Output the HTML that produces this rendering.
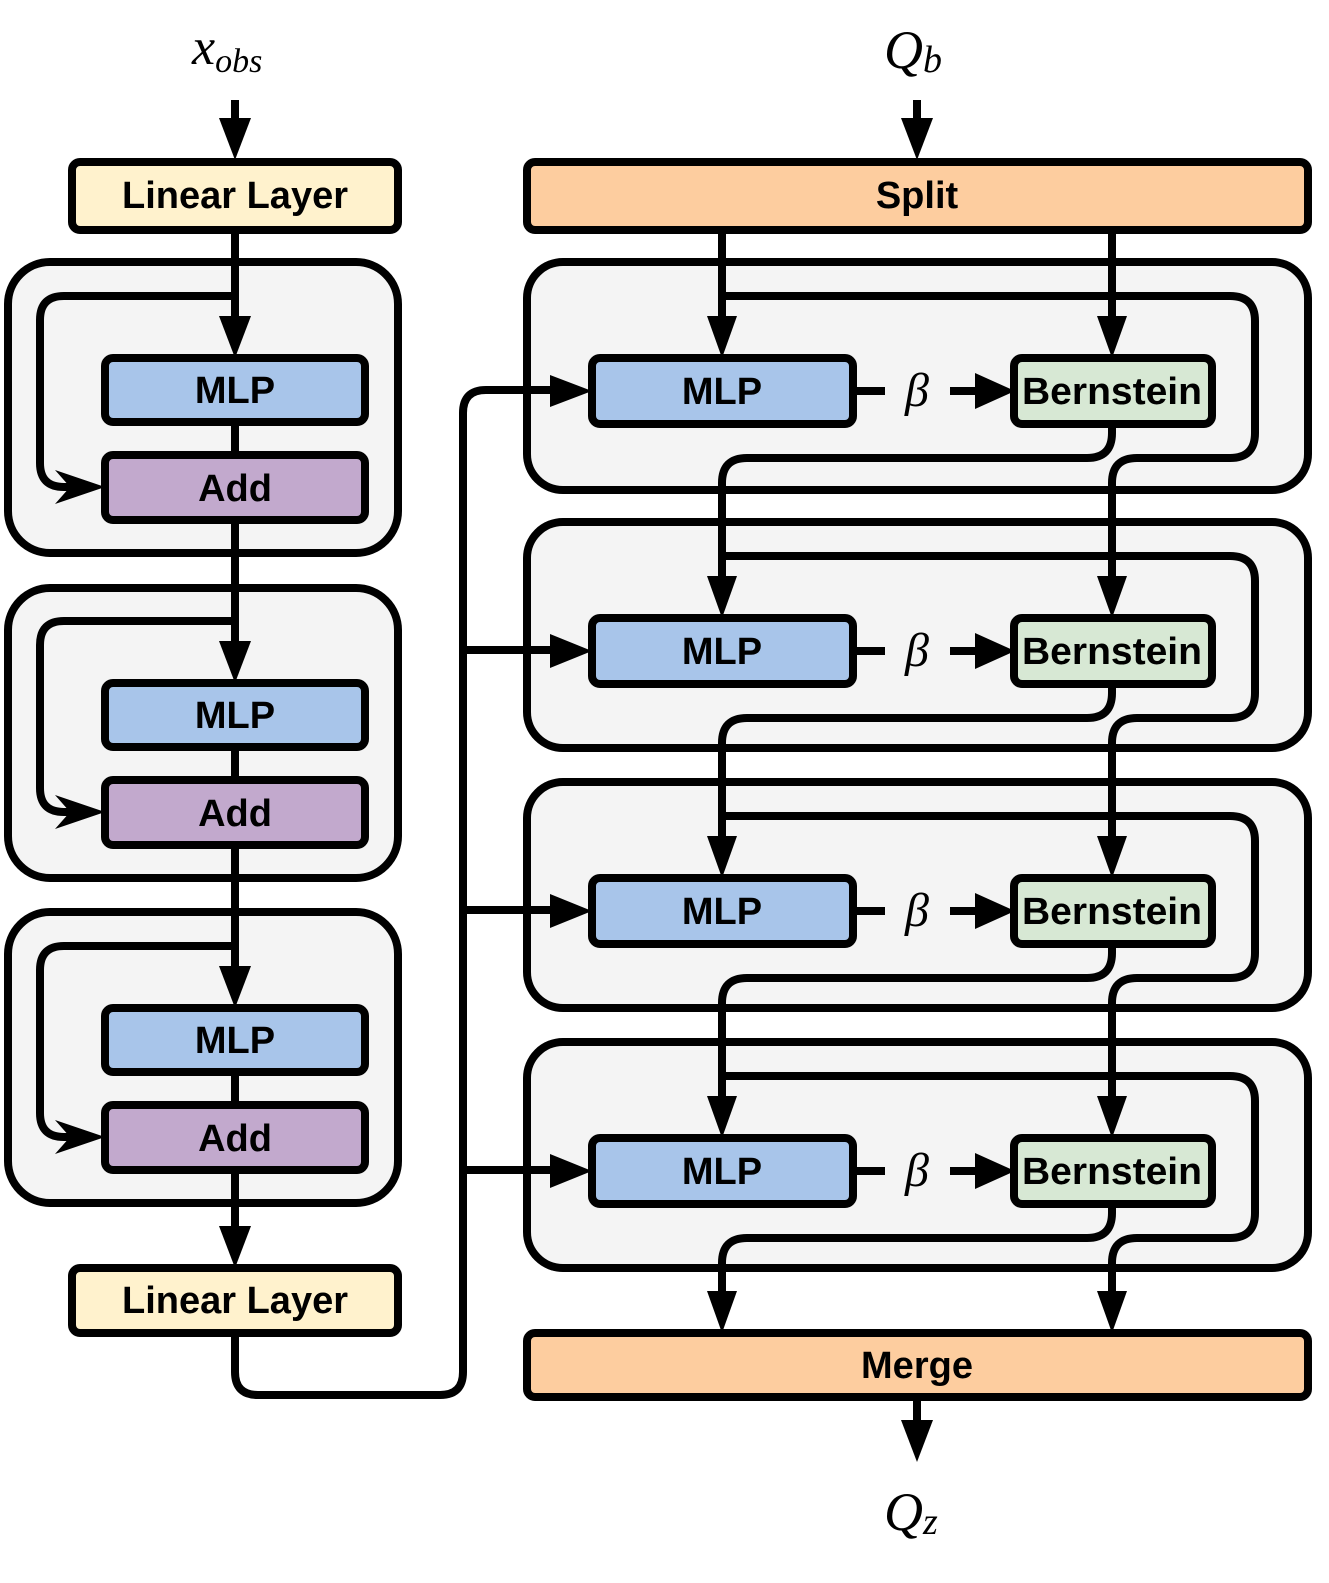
<!DOCTYPE html>
<html><head><meta charset="utf-8"><style>html,body{margin:0;padding:0;background:#fff}svg{display:block}</style></head>
<body>
<svg width="1329" height="1583" viewBox="0 0 1329 1583" xmlns="http://www.w3.org/2000/svg">
<defs>
<style>
.b{font-family:"Liberation Sans",sans-serif;font-weight:bold;font-size:38px;text-anchor:middle;fill:#000}
.m{font-family:"Liberation Serif",serif;font-style:italic;fill:#000}
.l{fill:none;stroke:#000;stroke-width:8}
.bx{stroke:#000;stroke-width:8}
</style>
</defs>
<g fill="#f4f4f4" stroke="#000" stroke-width="8">
<rect x="8" y="262" width="390" height="291" rx="42"/>
<rect x="8" y="588" width="390" height="290" rx="42"/>
<rect x="8" y="912" width="390" height="291" rx="42"/>
<rect x="527" y="262" width="781" height="228" rx="36"/>
<rect x="527" y="522" width="781" height="226" rx="36"/>
<rect x="527" y="782" width="781" height="226" rx="36"/>
<rect x="527" y="1042" width="781" height="226" rx="36"/>
</g>
<g class="l">
<path d="M235,100 V125"/>
<path d="M235,230 V320"/>
<path d="M235,422 V455"/>
<path d="M235,520 V645"/>
<path d="M235,747 V780"/>
<path d="M235,845 V970"/>
<path d="M235,1072 V1105"/>
<path d="M235,1170 V1230"/>
<path d="M235,296 H64 Q40,296 40,320 V463 Q40,487 64,487 H70"/>
<path d="M235,621 H64 Q40,621 40,645 V788 Q40,812 64,812 H70"/>
<path d="M235,946 H64 Q40,946 40,970 V1113 Q40,1137 64,1137 H70"/>
<path d="M235,1333 V1372 Q235,1395 258,1395 H440 Q463,1395 463,1372 V413 Q463,390 486,390 H555"/>
<path d="M463,650 H555"/><path d="M463,910 H555"/><path d="M463,1170 H555"/>
<path d="M917,100 V125"/>
<path d="M722,230 V320"/>
<path d="M1112,230 V320"/>
<path d="M917,1397 V1425"/>
</g>
<g class="l">
<path d="M722,296 H1230 Q1255,296 1255,321 V433 Q1255,458 1230,458 H1137 Q1112,458 1112,483 V580"/>
<path d="M1112,424 V433 Q1112,458 1087,458 H747 Q722,458 722,483 V580"/>
<path d="M722,556 H1230 Q1255,556 1255,581 V693 Q1255,718 1230,718 H1137 Q1112,718 1112,743 V840"/>
<path d="M1112,684 V693 Q1112,718 1087,718 H747 Q722,718 722,743 V840"/>
<path d="M722,816 H1230 Q1255,816 1255,841 V953 Q1255,978 1230,978 H1137 Q1112,978 1112,1003 V1100"/>
<path d="M1112,944 V953 Q1112,978 1087,978 H747 Q722,978 722,1003 V1100"/>
<path d="M722,1076 H1230 Q1255,1076 1255,1101 V1213 Q1255,1238 1230,1238 H1137 Q1112,1238 1112,1263 V1296"/>
<path d="M1112,1204 V1213 Q1112,1238 1087,1238 H747 Q722,1238 722,1263 V1296"/>
<path d="M853,391 H885 M950,391 H985"/>
<path d="M853,651 H885 M950,651 H985"/>
<path d="M853,911 H885 M950,911 H985"/>
<path d="M853,1171 H885 M950,1171 H985"/>
</g>
<g fill="#000">
<path d="M219,118 H251 L235,160 Z"/>
<path d="M901,118 H933 L917,160 Z"/>
<path d="M219,316 H251 L235,358 Z"/>
<path d="M219,641 H251 L235,683 Z"/>
<path d="M219,966 H251 L235,1008 Z"/>
<path d="M219,1226 H251 L235,1268 Z"/>
<path d="M55,470 L105,487 L55,504 L70,487 Z"/>
<path d="M55,795 L105,812 L55,829 L70,812 Z"/>
<path d="M55,1120 L105,1137 L55,1154 L70,1137 Z"/>
<path d="M550,375 L592,391 L550,407 Z"/>
<path d="M550,634 L592,651 L550,668 Z"/>
<path d="M550,894 L592,911 L550,928 Z"/>
<path d="M550,1154 L592,1171 L550,1188 Z"/>
<path d="M975,373 L1015,391 L975,409 Z"/>
<path d="M975,633 L1015,651 L975,669 Z"/>
<path d="M975,893 L1015,911 L975,929 Z"/>
<path d="M975,1153 L1015,1171 L975,1189 Z"/>
<path d="M707,316 H737 L722,358 Z"/><path d="M1097,316 H1127 L1112,358 Z"/>
<path d="M707,576 H737 L722,618 Z"/><path d="M1097,576 H1127 L1112,618 Z"/>
<path d="M707,836 H737 L722,878 Z"/><path d="M1097,836 H1127 L1112,878 Z"/>
<path d="M707,1096 H737 L722,1138 Z"/><path d="M1097,1096 H1127 L1112,1138 Z"/>
<path d="M707,1291 H737 L722,1333 Z"/><path d="M1097,1291 H1127 L1112,1333 Z"/>
<path d="M901,1420 H933 L917,1462 Z"/>
</g>
<g class="bx">
<rect x="72" y="162" width="326" height="68" rx="8" fill="#fff2cd"/>
<rect x="72" y="1268" width="326" height="65" rx="8" fill="#fff2cd"/>
<rect x="105" y="358" width="260" height="64" rx="8" fill="#a8c5ea"/>
<rect x="105" y="455" width="260" height="65" rx="8" fill="#c2a9cd"/>
<rect x="105" y="683" width="260" height="64" rx="8" fill="#a8c5ea"/>
<rect x="105" y="780" width="260" height="65" rx="8" fill="#c2a9cd"/>
<rect x="105" y="1008" width="260" height="64" rx="8" fill="#a8c5ea"/>
<rect x="105" y="1105" width="260" height="65" rx="8" fill="#c2a9cd"/>
<rect x="527" y="162" width="781" height="68" rx="8" fill="#fdcd9f"/>
<rect x="527" y="1333" width="781" height="64" rx="8" fill="#fdcd9f"/>
<rect x="592" y="358" width="261" height="66" rx="8" fill="#a8c5ea"/>
<rect x="592" y="618" width="261" height="66" rx="8" fill="#a8c5ea"/>
<rect x="592" y="878" width="261" height="66" rx="8" fill="#a8c5ea"/>
<rect x="592" y="1138" width="261" height="66" rx="8" fill="#a8c5ea"/>
<rect x="1014" y="358" width="198" height="66" rx="8" fill="#d7e8d4"/>
<rect x="1014" y="618" width="198" height="66" rx="8" fill="#d7e8d4"/>
<rect x="1014" y="878" width="198" height="66" rx="8" fill="#d7e8d4"/>
<rect x="1014" y="1138" width="198" height="66" rx="8" fill="#d7e8d4"/>
</g>
<g class="b">
<text x="235" y="208">Linear Layer</text>
<text x="235" y="1313">Linear Layer</text>
<text x="235" y="403">MLP</text><text x="235" y="501">Add</text>
<text x="235" y="728">MLP</text><text x="235" y="826">Add</text>
<text x="235" y="1053">MLP</text><text x="235" y="1151">Add</text>
<text x="917" y="208">Split</text>
<text x="917" y="1378">Merge</text>
<text x="722" y="404">MLP</text><text x="722" y="664">MLP</text>
<text x="722" y="924">MLP</text><text x="722" y="1184">MLP</text>
<text x="1112" y="404" textLength="180" lengthAdjust="spacingAndGlyphs">Bernstein</text>
<text x="1112" y="664" textLength="180" lengthAdjust="spacingAndGlyphs">Bernstein</text>
<text x="1112" y="924" textLength="180" lengthAdjust="spacingAndGlyphs">Bernstein</text>
<text x="1112" y="1184" textLength="180" lengthAdjust="spacingAndGlyphs">Bernstein</text>
</g>
<g class="m" font-size="48" text-anchor="middle">
<text x="917" y="406">β</text><text x="917" y="666">β</text>
<text x="917" y="926">β</text><text x="917" y="1186">β</text>
</g>
<text class="m" x="192" y="64" font-size="52">x<tspan font-size="34" dy="8">obs</tspan></text>
<text class="m" x="884" y="68" font-size="54">Q<tspan font-size="38" dy="4">b</tspan></text>
<text class="m" x="884" y="1530" font-size="54">Q<tspan font-size="38" dy="4">z</tspan></text>
</svg>
</body></html>
